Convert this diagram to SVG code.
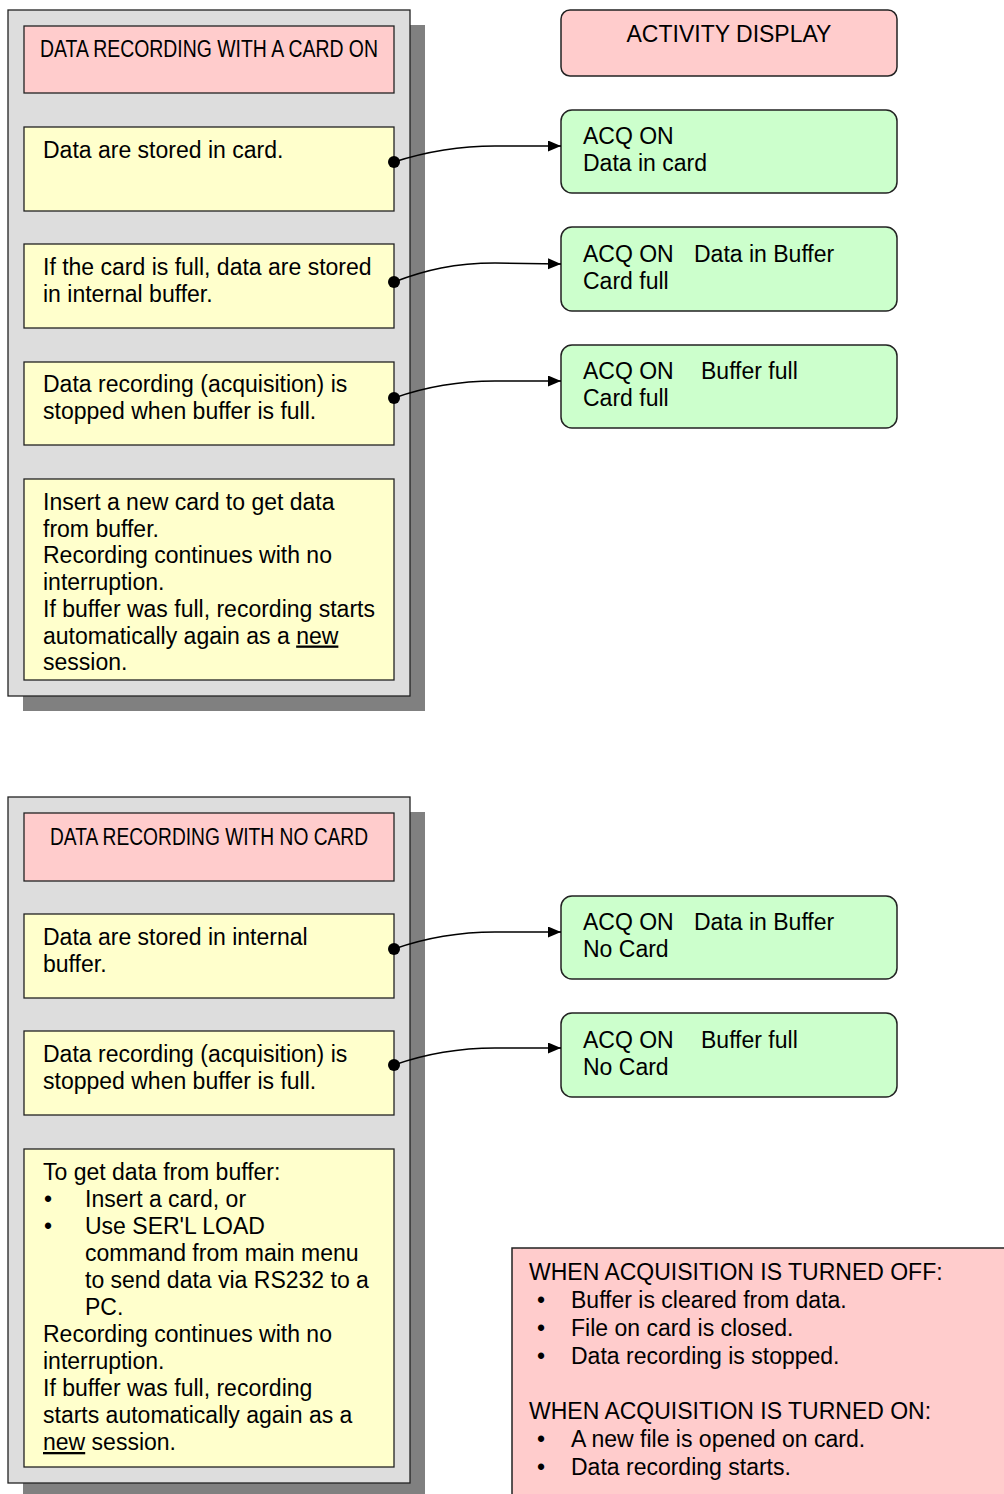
<svg xmlns="http://www.w3.org/2000/svg" width="1004" height="1494" viewBox="0 0 1004 1494">
<defs>
<style>
.shadow{fill:#808080;}
.panel{fill:#DDDDDD;stroke:#222;stroke-width:1.3;}
.hdr{fill:#FFCCCC;stroke:#222;stroke-width:1.3;}
.note{fill:#FFFFCC;stroke:#222;stroke-width:1.3;}
.disp{fill:#CCFFCC;stroke:#222;stroke-width:1.5;}
.pink{fill:#FFCCCC;stroke:#222;stroke-width:1.5;}
text{font-family:"Liberation Sans",Arial,sans-serif;font-size:23px;fill:#000;}
.cond{font-size:23.5px;}
.conn{fill:none;stroke:#000;stroke-width:1.6;}
.u{text-decoration:underline;}
</style>
<marker id="arr" markerWidth="14" markerHeight="12" refX="13" refY="5.5" orient="auto" markerUnits="userSpaceOnUse">
<path d="M0,0 L13,5.5 L0,11 Z" fill="#000"/>
</marker>
</defs>

<g id="panel-card">
<rect class="shadow" x="23" y="25" width="402" height="686"/>
<rect class="panel" x="8" y="10" width="402" height="686"/>
</g>
<g id="hdr-card">
<rect class="hdr" x="24" y="26" width="370" height="67"/>
<text class="cond" x="40" y="57" textLength="338" lengthAdjust="spacingAndGlyphs">DATA RECORDING WITH A CARD ON</text>
</g>
<g id="note-card1">
<rect class="note" x="24" y="127" width="370" height="84"/>
<text x="43" y="158">Data are stored in card.</text>
</g>
<g id="note-card2">
<rect class="note" x="24" y="244" width="370" height="84"/>
<text x="43" y="275">If the card is full, data are stored</text>
<text x="43" y="302">in internal buffer.</text>
</g>
<g id="note-card3">
<rect class="note" x="24" y="362" width="370" height="83"/>
<text x="43" y="392">Data recording (acquisition) is</text>
<text x="43" y="419">stopped when buffer is full.</text>
</g>
<g id="note-card4">
<rect class="note" x="24" y="479" width="370" height="201"/>
<text x="43" y="510">Insert a new card to get data</text>
<text x="43" y="536.7">from buffer.</text>
<text x="43" y="563.4">Recording continues with no</text>
<text x="43" y="590.1">interruption.</text>
<text x="43" y="616.8">If buffer was full, recording starts</text>
<text x="43" y="643.5">automatically again as a <tspan class="u">new</tspan></text>
<text x="43" y="670.2">session.</text>
</g>

<g id="activity-display">
<rect class="pink" x="561" y="10" width="336" height="66" rx="9"/>
<text x="729" y="42" text-anchor="middle">ACTIVITY DISPLAY</text>
</g>
<g id="disp-card1">
<rect class="disp" x="561" y="110" width="336" height="83" rx="11"/>
<text x="583" y="144">ACQ ON</text>
<text x="583" y="171">Data in card</text>
</g>
<g id="disp-card2">
<rect class="disp" x="561" y="227" width="336" height="84" rx="11"/>
<text x="583" y="262">ACQ ON</text>
<text x="694" y="262">Data in Buffer</text>
<text x="583" y="289">Card full</text>
</g>
<g id="disp-card3">
<rect class="disp" x="561" y="345" width="336" height="83" rx="11"/>
<text x="583" y="379">ACQ ON</text>
<text x="701" y="379">Buffer full</text>
<text x="583" y="406">Card full</text>
</g>

<g id="panel-nocard">
<rect class="shadow" x="23" y="812" width="402" height="700"/>
<rect class="panel" x="8" y="797" width="402" height="686"/>
</g>
<g id="hdr-nocard">
<rect class="hdr" x="24" y="813" width="370" height="68"/>
<text class="cond" x="50" y="845" textLength="318" lengthAdjust="spacingAndGlyphs">DATA RECORDING WITH NO CARD</text>
</g>
<g id="note-nocard1">
<rect class="note" x="24" y="914" width="370" height="84"/>
<text x="43" y="945">Data are stored in internal</text>
<text x="43" y="972">buffer.</text>
</g>
<g id="note-nocard2">
<rect class="note" x="24" y="1031" width="370" height="84"/>
<text x="43" y="1062">Data recording (acquisition) is</text>
<text x="43" y="1089">stopped when buffer is full.</text>
</g>
<g id="note-nocard3">
<rect class="note" x="24" y="1149" width="370" height="318"/>
<text x="43" y="1180">To get data from buffer:</text>
<text x="44" y="1207">•</text><text x="85" y="1207">Insert a card, or</text>
<text x="44" y="1234">•</text><text x="85" y="1234">Use SER'L LOAD</text>
<text x="85" y="1261">command from main menu</text>
<text x="85" y="1288">to send data via RS232 to a</text>
<text x="85" y="1315">PC.</text>
<text x="43" y="1342">Recording continues with no</text>
<text x="43" y="1369">interruption.</text>
<text x="43" y="1396">If buffer was full, recording</text>
<text x="43" y="1423">starts automatically again as a</text>
<text x="43" y="1450"><tspan class="u">new</tspan> session.</text>
</g>

<g id="disp-nocard1">
<rect class="disp" x="561" y="896" width="336" height="83" rx="11"/>
<text x="583" y="930">ACQ ON</text>
<text x="694" y="930">Data in Buffer</text>
<text x="583" y="957">No Card</text>
</g>
<g id="disp-nocard2">
<rect class="disp" x="561" y="1013" width="336" height="84" rx="11"/>
<text x="583" y="1048">ACQ ON</text>
<text x="701" y="1048">Buffer full</text>
<text x="583" y="1075">No Card</text>
</g>

<g id="acq-info">
<rect class="pink" x="512" y="1248" width="500" height="260"/>
<text x="529" y="1280">WHEN ACQUISITION IS TURNED OFF:</text>
<text x="537" y="1308">•</text><text x="571" y="1308">Buffer is cleared from data.</text>
<text x="537" y="1336">•</text><text x="571" y="1336">File on card is closed.</text>
<text x="537" y="1364">•</text><text x="571" y="1364">Data recording is stopped.</text>
<text x="529" y="1419">WHEN ACQUISITION IS TURNED ON:</text>
<text x="537" y="1447">•</text><text x="571" y="1447">A new file is opened on card.</text>
<text x="537" y="1475">•</text><text x="571" y="1475">Data recording starts.</text>
</g>

<g id="connectors">
<path class="conn" d="M394,162 C425,152 455,146 495,146 L561,146" marker-end="url(#arr)"/>
<circle cx="394" cy="162" r="6"/>
<path class="conn" d="M394,282 C425,270 455,263 495,263 L561,264" marker-end="url(#arr)"/>
<circle cx="394" cy="282" r="6"/>
<path class="conn" d="M394,398 C425,387 455,381 495,381 L561,381" marker-end="url(#arr)"/>
<circle cx="394" cy="398" r="6"/>
<path class="conn" d="M394,949 C425,938 455,932 495,932 L561,932" marker-end="url(#arr)"/>
<circle cx="394" cy="949" r="6"/>
<path class="conn" d="M394,1065 C425,1054 455,1048 495,1048 L561,1048" marker-end="url(#arr)"/>
<circle cx="394" cy="1065" r="6"/>
</g>
</svg>
